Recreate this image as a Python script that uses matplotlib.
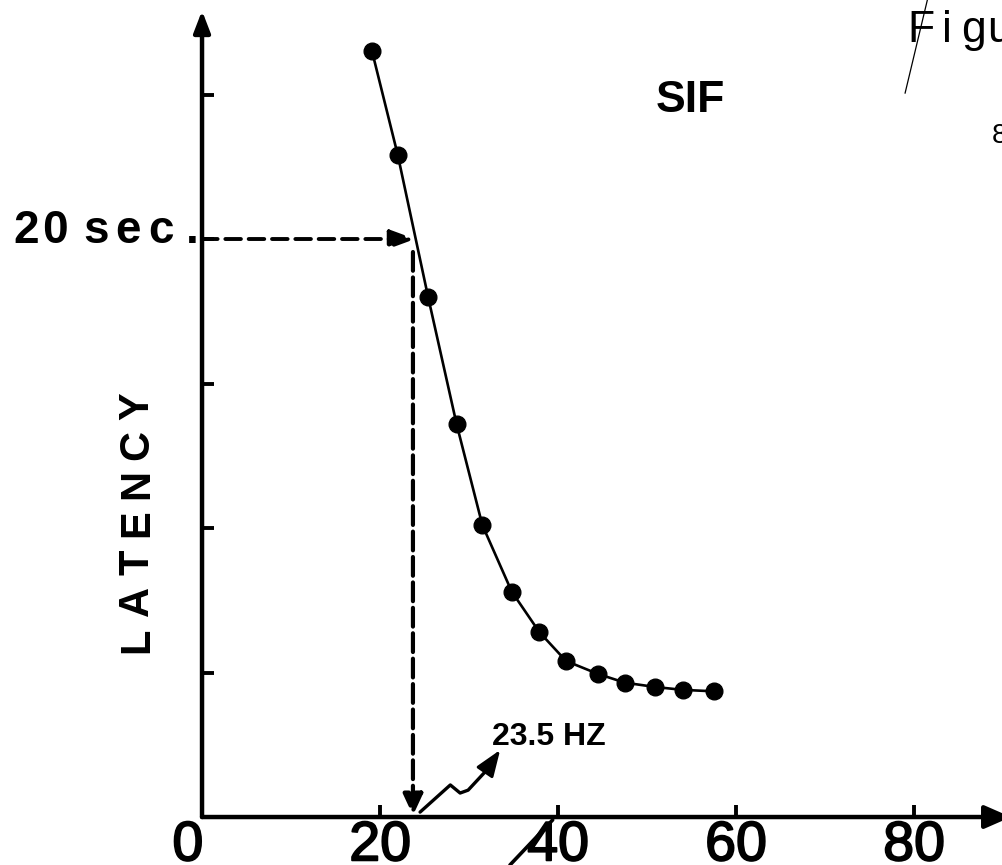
import matplotlib
matplotlib.use('Agg')
import matplotlib.pyplot as plt
import matplotlib.patheffects as pe


# ─────────────────────────────────────────
# DATA
# ─────────────────────────────────────────
freq_hz   = [19.1, 22.0, 25.4, 28.6, 31.5, 34.8, 37.9, 40.9, 44.5, 47.5, 50.9, 54.0, 57.5]
latency_s = [26.5, 22.9, 18.0, 13.6, 10.1, 7.8, 6.4, 5.4, 4.95, 4.65, 4.5, 4.4, 4.35]

x_ticks       = [20, 40, 60, 80]
x_tick_labels = ['0', '20', '40', '60', '80']
y_ticks       = [5, 10, 15, 20, 25]

threshold_latency = 20      # sec, marked on the y axis
threshold_freq    = 23.7    # where the dashed drop hits the x axis
threshold_label   = '23.5 HZ'
y_label           = 'LATENCY'
latency_label     = '20sec.'
curve_label       = 'SIF'


plt.rcParams['font.family'] = ['Liberation Sans', 'DejaVu Sans']


def spaced_text(ax, x0, y0, s, dx, dy, **kw):
    # the typed labels on the original are letter-spaced
    for i, ch in enumerate(s):
        ax.text(x0 + i * dx, y0 + i * dy, ch, **kw)


def arrow(ax, start, end, style, lw, ls='-'):
    ax.annotate('', xy=end, xytext=start, annotation_clip=False,
                arrowprops=dict(arrowstyle=style, color='black', lw=lw, ls=ls,
                                shrinkA=0, shrinkB=0, mutation_scale=10))


# ─────────────────────────────────────────
# FIGURE
# ─────────────────────────────────────────
fig = plt.figure(figsize=(10.03, 8.65), dpi=100)
ax = fig.add_axes([0, 0, 1, 1])
ax.set_xlim(-22.7, 90.0)
ax.set_ylim(-1.66, 28.27)

for side in ['top', 'right', 'left', 'bottom']:
    ax.spines[side].set_visible(False)
ax.spines['left'].set_position(('data', 0))
ax.spines['bottom'].set_position(('data', 0))

ax.set_xticks(x_ticks, labels=[])
ax.set_yticks(y_ticks, labels=[])
ax.tick_params(direction='in', length=8.5, width=2.8, color='black')

# axes with arrow heads
arrow(ax, (0, 0), (0, 27.9), '-|>,head_length=1.3,head_width=0.5', 3.2)
arrow(ax, (0, 0), (90.9, 0), '-|>,head_length=1.6,head_width=0.7', 3.2)

# the measured curve
ax.plot(freq_hz, latency_s, '-o', color='black', lw=1.9, ms=12, zorder=3)

# dashed read-off lines
arrow(ax, (0, threshold_latency), (threshold_freq + 0.25, threshold_latency),
      '-|>,head_length=1.5,head_width=0.55', 2.8, ls=(0, (4, 2)))
arrow(ax, (threshold_freq, threshold_latency - 0.45), (threshold_freq, 0.05),
      '-|>,head_length=1.3,head_width=0.6', 3.0, ls=(0, (4.5, 1.6)))

# wiggly pointer to the frequency label
lx, ly = 32.6, 2.49
wig_x = [threshold_freq + 0.8, lx - 4.7, lx - 3.6, lx - 2.7, lx - 0.8]
wig_y = [0.17, 1.11, 0.83, 0.93, 1.56]
ax.plot(wig_x, wig_y, color='black', lw=2.4, solid_joinstyle='round',
        solid_capstyle='round')
arrow(ax, (wig_x[-1], wig_y[-1]), (lx + 0.9, 2.32),
      '-|>,head_length=1.6,head_width=0.6', 2.2)
ax.text(lx, ly, threshold_label, fontsize=23, fontweight='bold',
        ha='left', va='baseline')

# tick labels
heavy = [pe.withStroke(linewidth=1.3, foreground='black')]
label_pos = [0] + x_ticks
for pos, lab in zip(label_pos, x_tick_labels):
    ax.text(pos - (1.6 if pos == 0 else 0), -1.5, lab, fontsize=40,
            ha='center', va='baseline', clip_on=False, path_effects=heavy)

# axis texts
sec_x = [-19.75, -16.5, -11.9, -8.3, -4.6, -1.15]
for cx, ch in zip(sec_x, latency_label):
    ax.text(cx, 19.86, ch, fontsize=33, fontweight='bold',
            ha='center', va='baseline')
spaced_text(ax, -7.3, 6.12, y_label, 0, 1.35, fontsize=30, fontweight='bold',
            rotation=90, ha='center', va='center')
ax.text(54.9, 24.39, curve_label, fontsize=32, fontweight='bold',
        ha='center', va='baseline')

# page header (cut off at the right edge of the scan)
spaced_text(ax, 80.8, 26.82, 'Figure', 2.95, 0, fontsize=32, ha='center',
            va='baseline', clip_on=False)
ax.text(88.76, 23.32, '8', fontsize=20, ha='left', va='baseline', clip_on=False)

# pen strokes on the scan
ax.plot([81.5, 79.0], [28.27, 25.05], color='black', lw=0.9, clip_on=False)
ax.plot([34.6, 39.4], [-1.66, -0.1], color='black', lw=2.6, clip_on=False,
        solid_capstyle='round')

fig.savefig('out.png', dpi=100)
